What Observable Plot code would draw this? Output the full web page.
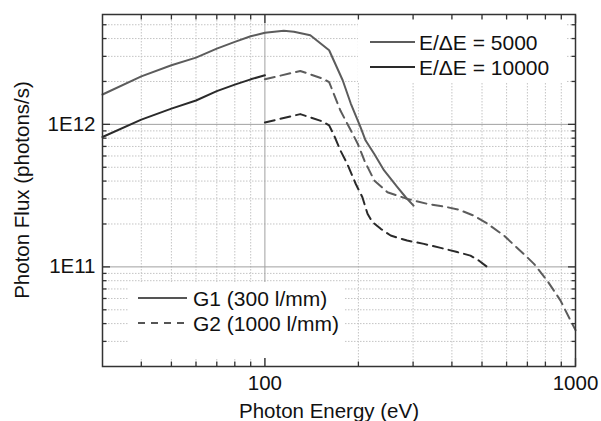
<!DOCTYPE html>
<html><head><meta charset="utf-8">
<script src="https://cdn.jsdelivr.net/npm/d3@7"></script>
<script src="https://cdn.jsdelivr.net/npm/@observablehq/plot@0.6"></script>
<style>body{margin:0;background:#fff}</style>
</head><body><div id="chart"></div>
<script>
// ---- Data ----
// G1 (300 l/mm), E/dE = 5000
const g1R5000Energy = [30, 40, 50, 60, 70, 80, 90, 100, 115, 124, 140, 161, 178, 189, 203, 211, 225, 242, 267, 284, 301];
const g1R5000Flux   = [1.62e12, 2.17e12, 2.6e12, 2.94e12, 3.4e12, 3.79e12, 4.15e12, 4.4e12, 4.53e12, 4.46e12, 4.22e12, 3.31e12, 2.04e12, 1.4e12, 9.6e11, 7.7e11, 6.2e11, 4.75e11, 3.63e11, 3.08e11, 2.69e11];
// G1 (300 l/mm), E/dE = 10000
const g1R10000Energy = [30, 40, 50, 60, 70, 80, 90, 100];
const g1R10000Flux   = [8.15e11, 1.08e12, 1.29e12, 1.47e12, 1.71e12, 1.9e12, 2.07e12, 2.21e12];
// G2 (1000 l/mm), E/dE = 5000
const g2R5000Energy = [100, 130, 153, 161, 175, 189, 199, 209, 225, 248, 287, 333, 378, 421, 470, 519, 588, 690, 735, 811, 895, 964, 1000];
const g2R5000Flux   = [2.07e12, 2.37e12, 2.1e12, 1.98e12, 1.25e12, 9.08e11, 7.32e11, 5.58e11, 4.04e11, 3.34e11, 3.0e11, 2.77e11, 2.65e11, 2.52e11, 2.29e11, 2.02e11, 1.66e11, 1.2e11, 1.05e11, 8.0e10, 5.8e10, 4.2e10, 3.6e10];
// G2 (1000 l/mm), E/dE = 10000
const g2R10000Energy = [100, 130, 153, 161, 167, 175, 184, 196, 206, 214, 222, 236, 254, 287, 325, 368, 416, 459, 488, 519];
const g2R10000Flux   = [1.03e12, 1.18e12, 1.05e12, 9.84e11, 8.37e11, 6.56e11, 5.3e11, 3.83e11, 3.08e11, 2.36e11, 2.06e11, 1.85e11, 1.66e11, 1.53e11, 1.45e11, 1.36e11, 1.27e11, 1.2e11, 1.11e11, 1.0e11];

// Tick values
const xMajorTicks = [100, 1000];
const xMinorTicks = [40, 50, 60, 70, 80, 90, 200, 300, 400, 500, 600, 700, 800, 900];
const yMajorTicks = [1e11, 1e12];
const yMinorTicks = [3e10, 4e10, 5e10, 6e10, 7e10, 8e10, 9e10, 2e11, 3e11, 4e11, 5e11, 6e11, 7e11, 8e11, 9e11, 2e12, 3e12, 4e12, 5e12];
const xTickLabels = ["100", "1000"];
const yTickLabels = ["1E11", "1E12"];

const resolutionLabels = ["E/\u0394E = 5000", "E/\u0394E = 10000"];
const gratingLabels = ["G1 (300 l/mm)", "G2 (1000 l/mm)"];
const xTitle = "Photon Energy (eV)";
const yTitle = "Photon Flux (photons/s)";

// ---- Build tables ----
const toTable = (es, fs) => es.map((e, i) => ({E: e, F: fs[i]}));
const g1R5000 = toTable(g1R5000Energy, g1R5000Flux);
const g1R10000 = toTable(g1R10000Energy, g1R10000Flux);
const g2R5000 = toTable(g2R5000Energy, g2R5000Flux);
const g2R10000 = toTable(g2R10000Energy, g2R10000Flux);
const xLabelOf = new Map(xMajorTicks.map((t, i) => [t, xTickLabels[i]]));
const yLabelOf = new Map(yMajorTicks.map((t, i) => [t, yTickLabels[i]]));

const font = "'Liberation Sans', Arial, Helvetica, sans-serif";
const c5000 = "#5c5c5c", c10000 = "#2a2a2a";
const dash = "10,6";
const W = 601, H = 421, mL = 102, mR = 26, mT = 14, mB = 55;

const minorGrid = {stroke: "#c4c4c4", strokeOpacity: 1, strokeWidth: 1, strokeDasharray: "1.5,1.5"};
const majorGrid = {stroke: "#a0a0a0", strokeOpacity: 1, strokeWidth: 1};
const tickStyle = {stroke: "#333", strokeWidth: 1.3, tickFormat: () => "", label: null};

const chart = Plot.plot({
  width: W, height: H,
  marginLeft: mL, marginRight: mR, marginTop: mT, marginBottom: mB,
  style: {fontFamily: font, background: "#fff", color: "#111"},
  x: {type: "log", domain: [30, 1000], label: null},
  y: {type: "log", domain: [2e10, 5.9e12], label: null},
  marks: [
    Plot.gridX(xMinorTicks, minorGrid),
    Plot.gridY(yMinorTicks, minorGrid),
    Plot.gridX([xMajorTicks[0]], majorGrid),
    Plot.gridY(yMajorTicks, majorGrid),
    Plot.line(g1R5000, {x: "E", y: "F", stroke: c5000, strokeWidth: 2}),
    Plot.line(g1R10000, {x: "E", y: "F", stroke: c10000, strokeWidth: 2}),
    Plot.line(g2R5000, {x: "E", y: "F", stroke: c5000, strokeWidth: 2, strokeDasharray: dash}),
    Plot.line(g2R10000, {x: "E", y: "F", stroke: c10000, strokeWidth: 2, strokeDasharray: dash}),
    Plot.frame({stroke: "#333", strokeWidth: 1.5}),
    // inward ticks on all four sides
    Plot.axisX(xMajorTicks, {...tickStyle, anchor: "bottom", tickSize: -8}),
    Plot.axisX(xMinorTicks, {...tickStyle, anchor: "bottom", tickSize: -4.5}),
    Plot.axisX(xMajorTicks, {...tickStyle, anchor: "top", tickSize: -8}),
    Plot.axisX(xMinorTicks, {...tickStyle, anchor: "top", tickSize: -4.5}),
    Plot.axisY(yMajorTicks, {...tickStyle, anchor: "left", tickSize: -8}),
    Plot.axisY(yMinorTicks, {...tickStyle, anchor: "left", tickSize: -4.5}),
    Plot.axisY(yMajorTicks, {...tickStyle, anchor: "right", tickSize: -8}),
    Plot.axisY(yMinorTicks, {...tickStyle, anchor: "right", tickSize: -4.5}),
    // tick labels
    Plot.axisX(xMajorTicks, {anchor: "bottom", tickSize: 0, tickPadding: 9, fontSize: 20.5, fill: "#111",
      tickFormat: d => xLabelOf.get(d), label: null}),
    Plot.axisY(yMajorTicks, {anchor: "left", tickSize: 0, tickPadding: 7, fontSize: 20.5, fill: "#111",
      tickFormat: d => yLabelOf.get(d), label: null})
  ]
});

document.getElementById("chart").appendChild(chart);

// ---- Titles and in-plot legends ----
const svg = d3.select(chart);
const fs = 20.5;
svg.append("text").attr("x", 329).attr("y", 418).attr("text-anchor", "middle")
  .attr("font-family", font).attr("font-size", fs).attr("fill", "#111").text(xTitle);
svg.append("text").attr("transform", "translate(29,190) rotate(-90)").attr("text-anchor", "middle")
  .attr("font-family", font).attr("font-size", fs).attr("fill", "#111").text(yTitle);

function legend(box, items) {
  const g = svg.append("g").attr("font-family", font).attr("font-size", 21).attr("fill", "#111")
    .attr("text-anchor", "start");
  g.append("rect").attr("x", box.x).attr("y", box.y).attr("width", box.w).attr("height", box.h).attr("fill", "#fff");
  items.forEach(it => {
    g.append("line").attr("x1", box.lx1).attr("x2", box.lx2).attr("y1", it.y).attr("y2", it.y)
      .attr("stroke", it.color).attr("stroke-width", 1.8).attr("stroke-dasharray", it.dash || null);
    g.append("text").attr("x", box.tx).attr("y", it.y).attr("dy", "0.36em")
      .attr("text-anchor", "start").text(it.label);
  });
}
legend({x: 358, y: 20, w: 208, h: 63, lx1: 370, lx2: 415, tx: 419}, [
  {y: 42, color: c5000, label: resolutionLabels[0]},
  {y: 67, color: c10000, label: resolutionLabels[1]}
]);
legend({x: 128, y: 282, w: 217, h: 76, lx1: 138, lx2: 187, tx: 193}, [
  {y: 298, color: "#555", label: gratingLabels[0]},
  {y: 323, color: "#555", label: gratingLabels[1], dash: "7,6"}
]);
</script>
</body></html>
